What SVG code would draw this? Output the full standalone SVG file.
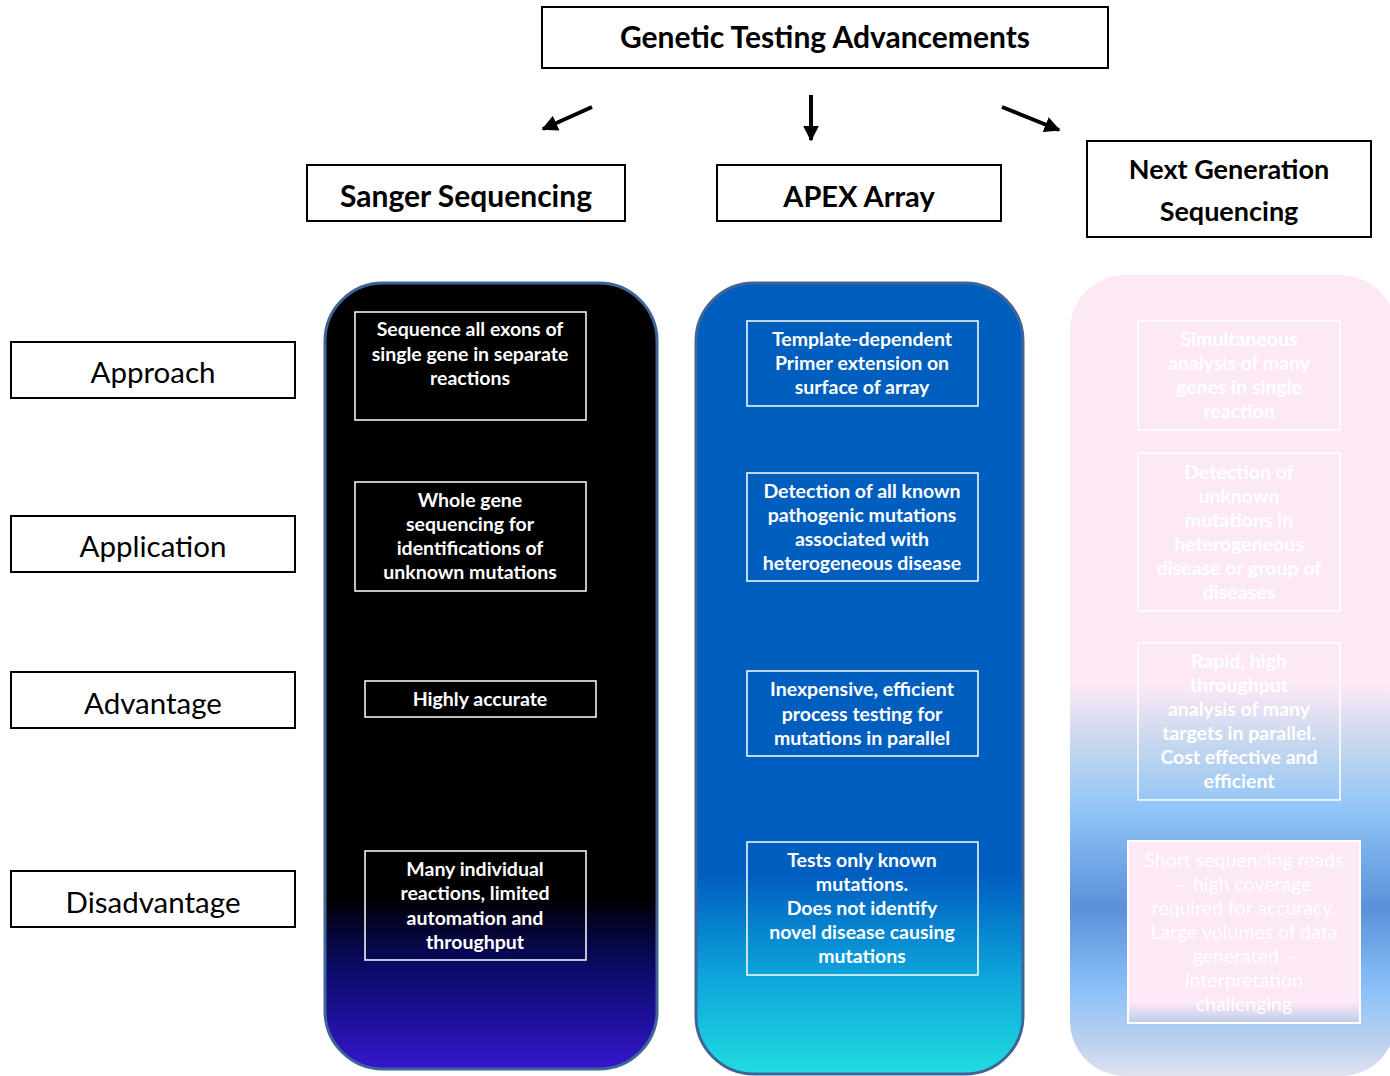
<svg xmlns="http://www.w3.org/2000/svg" width="1390" height="1076" viewBox="0 0 1390 1076">
<style>
.hb{fill:#fff;stroke:#000;stroke-width:2}
.ht{font-family:Lato,"Liberation Sans",sans-serif;font-weight:bold;fill:#000;text-anchor:middle}
.lt{font-family:Lato,"Liberation Sans",sans-serif;fill:#000;text-anchor:middle;font-size:29.5px}
.ib{fill:none;stroke:#fff;stroke-width:1.5}
.it{font-family:Lato,"Liberation Sans",sans-serif;font-weight:bold;fill:#fff;text-anchor:middle;font-size:19.5px}
.pt{font-family:Lato,"Liberation Sans",sans-serif;fill:#fff;text-anchor:middle;font-size:19.5px}
.col{stroke:#3f6597;stroke-width:3}
.arr{stroke:#000;stroke-width:4;fill:none}
</style>
<defs>
<linearGradient id="g1" x1="0" y1="0" x2="0" y2="1">
<stop offset="0" stop-color="#000"/>
<stop offset="0.78" stop-color="#000"/>
<stop offset="0.87" stop-color="#0a0a66"/>
<stop offset="1" stop-color="#3317cc"/>
</linearGradient>
<linearGradient id="g2" x1="0" y1="0" x2="0" y2="1">
<stop offset="0" stop-color="#005ebe"/>
<stop offset="0.75" stop-color="#005ec0"/>
<stop offset="0.88" stop-color="#0ea6dc"/>
<stop offset="1" stop-color="#20dce0"/>
</linearGradient>
<linearGradient id="g3" x1="0" y1="0" x2="0" y2="1">
<stop offset="0" stop-color="#fde9f6"/>
<stop offset="0.51" stop-color="#fde9f6"/>
<stop offset="0.58" stop-color="#c9d8ee"/>
<stop offset="0.67" stop-color="#8fc4f8"/>
<stop offset="0.79" stop-color="#5a90d8"/>
<stop offset="0.89" stop-color="#8ac0f8"/>
<stop offset="0.96" stop-color="#bcd2ee"/>
<stop offset="1" stop-color="#e0e2f0"/>
</linearGradient>
<linearGradient id="g4" x1="0" y1="0" x2="0" y2="1">
<stop offset="0" stop-color="#fde8f6"/>
<stop offset="0.89" stop-color="#fde8f6"/>
<stop offset="1" stop-color="#b8cbea"/>
</linearGradient>
<marker id="ah" viewBox="0 0 10 10" refX="9" refY="5" markerWidth="4" markerHeight="4" orient="auto" markerUnits="strokeWidth">
<path d="M0,0 L10,5 L0,10 z" fill="#000"/>
</marker>
</defs>

<g id="title">
<rect class="hb" x="542" y="7" width="566" height="61"/>
<text class="ht" x="825" y="48" font-size="30">Genetic Testing Advancements</text>
</g>
<g id="sanger-header">
<rect class="hb" x="307" y="165" width="318" height="56"/>
<text class="ht" x="466" y="207" font-size="30">Sanger Sequencing</text>
</g>
<g id="apex-header">
<rect class="hb" x="717" y="165" width="284" height="56"/>
<text class="ht" x="859" y="207" font-size="29">APEX Array</text>
</g>
<g id="ngs-header">
<rect class="hb" x="1087" y="141" width="284" height="96"/>
<text class="ht" x="1229" y="179" font-size="27">Next Generation</text>
<text class="ht" x="1229" y="221" font-size="27">Sequencing</text>
</g>

<g id="connectors">
<line class="arr" x1="592" y1="107" x2="543" y2="129" marker-end="url(#ah)"/>
<line class="arr" x1="811" y1="95" x2="811" y2="140" marker-end="url(#ah)"/>
<line class="arr" x1="1002" y1="107" x2="1059" y2="130" marker-end="url(#ah)"/>
</g>

<g id="label-approach"><rect class="hb" x="11" y="342" width="284" height="56"/><text class="lt" x="153" y="383">Approach</text></g>
<g id="label-application"><rect class="hb" x="11" y="516" width="284" height="56"/><text class="lt" x="153" y="557">Application</text></g>
<g id="label-advantage"><rect class="hb" x="11" y="672" width="284" height="56"/><text class="lt" x="153" y="714">Advantage</text></g>
<g id="label-disadvantage"><rect class="hb" x="11" y="871" width="284" height="56"/><text class="lt" x="153" y="913">Disadvantage</text></g>

<g id="sanger-column">
<rect class="col" x="325" y="283" width="332" height="786" rx="58" ry="58" fill="url(#g1)"/>
</g>
<g id="sanger-approach">
<rect class="ib" x="355" y="312" width="231" height="108"/>
<text class="it" x="470" y="336">Sequence all exons of</text>
<text class="it" x="470" y="361">single gene in separate</text>
<text class="it" x="470" y="385">reactions</text>
</g>
<g id="sanger-application">
<rect class="ib" x="355" y="482" width="231" height="109"/>
<text class="it" x="470" y="507">Whole gene</text>
<text class="it" x="470" y="531">sequencing for</text>
<text class="it" x="470" y="555">identifications of</text>
<text class="it" x="470" y="579">unknown mutations</text>
</g>
<g id="sanger-advantage">
<rect class="ib" x="365" y="681" width="231" height="36"/>
<text class="it" x="480" y="706">Highly accurate</text>
</g>
<g id="sanger-disadvantage">
<rect class="ib" x="365" y="851" width="221" height="109"/>
<text class="it" x="475" y="876">Many individual</text>
<text class="it" x="475" y="900">reactions, limited</text>
<text class="it" x="475" y="925">automation and</text>
<text class="it" x="475" y="949">throughput</text>
</g>

<g id="apex-column">
<rect class="col" x="696" y="283" width="327" height="791" rx="58" ry="58" fill="url(#g2)"/>
</g>
<g id="apex-approach">
<rect class="ib" x="747" y="321" width="231" height="85"/>
<text class="it" x="862" y="346">Template-dependent</text>
<text class="it" x="862" y="370">Primer extension on</text>
<text class="it" x="862" y="394">surface of array</text>
</g>
<g id="apex-application">
<rect class="ib" x="747" y="473" width="231" height="108"/>
<text class="it" x="862" y="498">Detection of all known</text>
<text class="it" x="862" y="522">pathogenic mutations</text>
<text class="it" x="862" y="546">associated with</text>
<text class="it" x="862" y="570">heterogeneous disease</text>
</g>
<g id="apex-advantage">
<rect class="ib" x="747" y="671" width="231" height="85"/>
<text class="it" x="862" y="696">Inexpensive, efficient</text>
<text class="it" x="862" y="721">process testing for</text>
<text class="it" x="862" y="745">mutations in parallel</text>
</g>
<g id="apex-disadvantage">
<rect class="ib" x="747" y="842" width="231" height="133"/>
<text class="it" x="862" y="867">Tests only known</text>
<text class="it" x="862" y="891">mutations.</text>
<text class="it" x="862" y="915">Does not identify</text>
<text class="it" x="862" y="939">novel disease causing</text>
<text class="it" x="862" y="963">mutations</text>
</g>

<g id="ngs-column">
<rect x="1070" y="275" width="326" height="801" rx="55" ry="55" fill="url(#g3)"/>
</g>
<g id="ngs-approach">
<rect class="ib" x="1138" y="321" width="202" height="109"/>
<text class="it" x="1239" y="346">Simultaneous</text>
<text class="it" x="1239" y="370">analysis of many</text>
<text class="it" x="1239" y="394">genes in single</text>
<text class="it" x="1239" y="418">reaction</text>
</g>
<g id="ngs-application">
<rect class="ib" x="1138" y="453" width="202" height="158"/>
<text class="it" x="1239" y="479">Detection of</text>
<text class="it" x="1239" y="503">unknown</text>
<text class="it" x="1239" y="527">mutations in</text>
<text class="it" x="1239" y="551">heterogeneous</text>
<text class="it" x="1239" y="575">disease or group of</text>
<text class="it" x="1239" y="599">diseases</text>
</g>
<g id="ngs-advantage">
<rect class="ib" x="1138" y="643" width="202" height="157"/>
<text class="it" x="1239" y="668">Rapid, high</text>
<text class="it" x="1239" y="692">throughput</text>
<text class="it" x="1239" y="716">analysis of many</text>
<text class="it" x="1239" y="740">targets in parallel.</text>
<text class="it" x="1239" y="764">Cost effective and</text>
<text class="it" x="1239" y="788">efficient</text>
</g>
<g id="ngs-disadvantage">
<rect x="1128" y="841" width="232" height="182" fill="url(#g4)" stroke="#fff" stroke-width="2"/>
<text class="pt" x="1244" y="867">Short sequencing reads</text>
<text class="pt" x="1244" y="891">– high coverage</text>
<text class="pt" x="1244" y="915">required for accuracy.</text>
<text class="pt" x="1244" y="939">Large volumes of data</text>
<text class="pt" x="1244" y="963">generated –</text>
<text class="pt" x="1244" y="987">interpretation</text>
<text class="pt" x="1244" y="1011">challenging</text>
</g>
</svg>
